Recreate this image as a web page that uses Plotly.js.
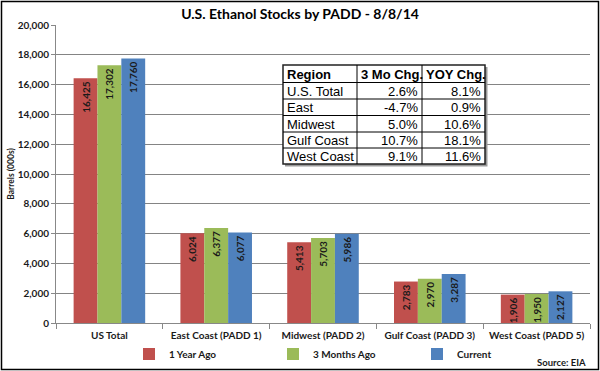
<!DOCTYPE html>
<html>
<head>
<meta charset="utf-8">
<script src="https://cdn.plot.ly/plotly-3.0.1.min.js"></script>
<style>html,body{margin:0;padding:0;background:#fff;}#chart{width:600px;height:371px;}</style>
</head>
<body>
<div id="chart"></div>
<script>
const categories = ["US Total", "East Coast (PADD 1)", "Midwest (PADD 2)", "Gulf Coast (PADD 3)", "West Coast (PADD 5)"];
const yearAgo = [16425, 6024, 5413, 2783, 1906];
const threeMonthsAgo = [17302, 6377, 5703, 2970, 1950];
const current = [17760, 6077, 5986, 3287, 2127];
const seriesNames = ["1 Year Ago", "3 Months Ago", "Current"];
const seriesColors = ["#C0504D", "#9BBB59", "#4F81BD"];
const yTicks = [0, 2000, 4000, 6000, 8000, 10000, 12000, 14000, 16000, 18000, 20000];

const tableHeaders = ["Region", "3 Mo Chg.", "YOY Chg."];
const tableRegions = ["U.S. Total", "East", "Midwest", "Gulf Coast", "West Coast"];
const tableThreeMo = ["2.6%", "-4.7%", "5.0%", "10.7%", "9.1%"];
const tableYoy = ["8.1%", "0.9%", "10.6%", "18.1%", "11.6%"];

const FONT = "Lato, 'Open Sans', sans-serif";
const TFONT = "'Liberation Sans', Arial, sans-serif";
const labelFont = {family: FONT, size: 10, color: "#1a1a1a", weight: 700};

function barTrace(name, vals, color) {
  return {
    type: "bar", name: name, x: categories, y: vals,
    marker: {color: color, line: {width: 0}},
    text: vals.map(v => v.toLocaleString("en-US")),
    texttemplate: "%{text}",
    textposition: "inside", insidetextanchor: "end", textangle: -90,
    textfont: labelFont, constraintext: "none",
    hoverinfo: "skip"
  };
}

const traces = [
  barTrace(seriesNames[0], yearAgo, seriesColors[0]),
  barTrace(seriesNames[1], threeMonthsAgo, seriesColors[1]),
  barTrace(seriesNames[2], current, seriesColors[2])
];

const W = 534, H = 298, L = 56, T = 25;
function px(x) { return (x - L) / W; }
function py(y) { return (T + H - y) / H; }

// table geometry (pixels)
const colX = [283, 357, 422, 485];
const rowY = [65, 82.5, 99, 115.5, 132, 148, 164];

const shapes = [];
const annotations = [];
shapes.push({type: "rect", xref: "paper", yref: "paper", layer: "above",
  x0: px(colX[0] + 2), x1: px(colX[3] + 2.5), y0: py(rowY[6] + 2.5), y1: py(rowY[0] + 2),
  line: {width: 0}, fillcolor: "#9a9a9a"});
shapes.push({type: "rect", xref: "paper", yref: "paper", layer: "above",
  x0: px(colX[0]), x1: px(colX[3]), y0: py(rowY[6]), y1: py(rowY[0]),
  line: {color: "#222", width: 1.5}, fillcolor: "#fff"});
for (let i = 1; i < rowY.length - 1; i++) {
  shapes.push({type: "line", xref: "paper", yref: "paper", layer: "above",
    x0: px(colX[0]), x1: px(colX[3]), y0: py(rowY[i]), y1: py(rowY[i]),
    line: {color: "#000", width: 1}});
}
for (let j = 1; j < colX.length - 1; j++) {
  shapes.push({type: "line", xref: "paper", yref: "paper", layer: "above",
    x0: px(colX[j]), x1: px(colX[j]), y0: py(rowY[0]), y1: py(rowY[6]),
    line: {color: "#000", width: 1}});
}
function cell(text, col, row, align, bold) {
  const yc = (rowY[row] + rowY[row + 1]) / 2 + 0.5;
  const x = align === "left" ? colX[col] + 2 : colX[col + 1] - 2;
  annotations.push({text: bold ? "<b>" + text + "</b>" : text, xref: "paper", yref: "paper",
    x: px(x), y: py(yc), xanchor: align, yanchor: "middle", showarrow: false,
    font: {family: TFONT, size: 13, color: "#000"}});
}
tableHeaders.forEach((h, j) => cell(h, j, 0, "left", true));
tableRegions.forEach((r, i) => cell(r, 0, i + 1, "left", false));
tableThreeMo.forEach((v, i) => cell(v, 1, i + 1, "right", false));
tableYoy.forEach((v, i) => cell(v, 2, i + 1, "right", false));

annotations.push({
  text: "<b>Source: EIA</b>", xref: "paper", yref: "paper", x: px(588), y: py(362),
  xanchor: "right", yanchor: "middle", showarrow: false,
  font: {family: FONT, size: 9.5, color: "#1a1a1a"}
});
shapes.push({
  type: "rect", xref: "paper", yref: "paper", layer: "above",
  x0: px(1.5), x1: px(598.5), y0: py(369.5), y1: py(1.5),
  line: {color: "#000", width: 1.5}
});

const layout = {
  width: 600, height: 371,
  margin: {l: 56, r: 10, t: 25, b: 48, autoexpand: false},
  paper_bgcolor: "#fff", plot_bgcolor: "#fff",
  title: {text: "<b>U.S. Ethanol Stocks by PADD - 8/8/14</b>", x: 0.5, xanchor: "center", y: 0.963, yanchor: "middle",
    font: {family: FONT, size: 14, color: "#000"}},
  barmode: "group", bargap: 0.33, bargroupgap: 0,
  font: {family: FONT, color: "#000"},
  xaxis: {
    type: "category", showline: true, linecolor: "#888", linewidth: 1,
    ticks: "outside", tickson: "boundaries", ticklen: 5, tickcolor: "#888",
    ticklabelstandoff: 3,
    tickfont: {family: FONT, size: 10, color: "#1a1a1a", weight: 700},
    showgrid: false, fixedrange: true, automargin: false
  },
  yaxis: {
    range: [0, 20000], tickvals: yTicks, tickformat: ",",
    showline: true, linecolor: "#888", linewidth: 1,
    ticks: "outside", ticklen: 4, tickcolor: "#888",
    gridcolor: "#848484", gridwidth: 1, zeroline: false,
    tickfont: {family: FONT, size: 10, color: "#1a1a1a", weight: 700},
    title: {text: "Barrels (000s)", standoff: 1, font: {family: FONT, size: 8.5, color: "#1a1a1a", weight: 700}},
    fixedrange: true, automargin: false
  },
  legend: {
    orientation: "h", x: px(129), xanchor: "left", y: py(354), yanchor: "middle",
    entrywidth: 99, entrywidthmode: "pixels", itemwidth: 30,
    font: {family: FONT, size: 10, color: "#1a1a1a", weight: 700},
    bgcolor: "rgba(0,0,0,0)", traceorder: "normal"
  },
  annotations: annotations,
  shapes: shapes,
  showlegend: true
};

Plotly.newPlot("chart", traces, layout, {staticPlot: true, displayModeBar: false});
</script>
</body>
</html>
